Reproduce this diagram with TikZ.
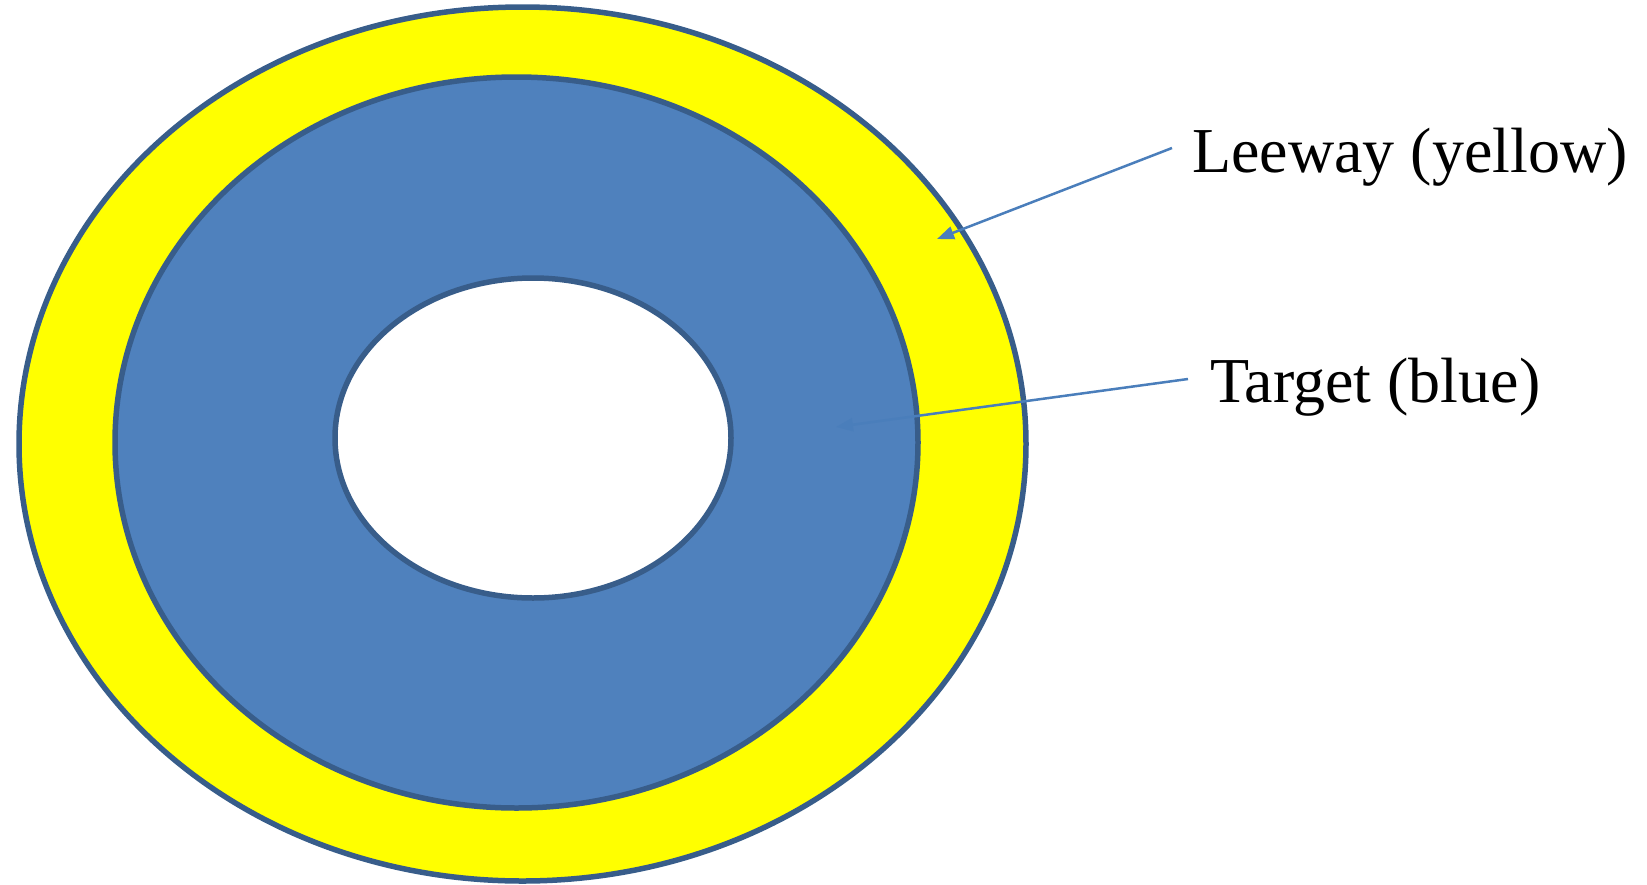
\documentclass[tikz,border=0pt]{standalone}
\usepackage{fontspec}
\setmainfont{Liberation Serif}
\usetikzlibrary{arrows.meta,shapes.geometric}
\definecolor{edgeblue}{RGB}{56,93,138}
\definecolor{bluefill}{RGB}{79,129,189}
\definecolor{yel}{RGB}{255,255,0}
\definecolor{arr}{RGB}{74,126,187}
\begin{document}
\begin{tikzpicture}[x=1pt,y=-1pt,
  ring/.style={ellipse,draw=edgeblue,line width=5.5pt,inner sep=0pt,outer sep=0pt},
  lbl/.style={font=\fontsize{64}{70}\selectfont,inner sep=0pt,anchor=base west},
  pointer/.style={draw=arr,line width=2.5pt,-{Triangle[length=17pt,width=13pt]}}]
\useasboundingbox (0,0) rectangle (1647,884);
\node[ring,fill=yel,minimum width=1007pt,minimum height=874pt] (outer) at (522.5,444) {};
\node[ring,fill=bluefill,minimum width=803pt,minimum height=731pt] (middle) at (516.5,442.5) {};
\node[ring,fill=white,minimum width=396pt,minimum height=320pt] (inner) at (533,438) {};
\node[lbl] (leeway) at (1192,172) {Leeway (yellow)};
\node[lbl] (target) at (1210,402) {Target (blue)};
\coordinate (lstart) at (1172,148);
\coordinate (ltip) at (937,239);
\coordinate (tstart) at (1188,379);
\coordinate (ttip) at (836,427);
\draw[pointer] (lstart) -- (ltip);
\draw[pointer] (tstart) -- (ttip);
\end{tikzpicture}
\end{document}
